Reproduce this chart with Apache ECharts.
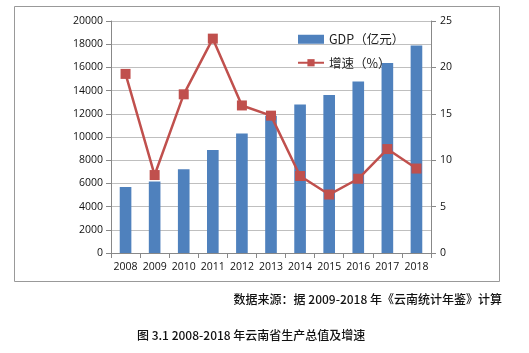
<!DOCTYPE html>
<html lang="zh">
<head>
<meta charset="UTF-8">
<title>云南省生产总值及增速</title>
<style>
  html, body { margin: 0; padding: 0; background: #fff; }
  #chart { width: 529px; height: 353px; }
</style>
</head>
<body>
<div id="chart"></div>
<script src="https://cdn.jsdelivr.net/npm/echarts@6/dist/echarts.min.js"></script>
<script>
var years = ['2008', '2009', '2010', '2011', '2012', '2013', '2014', '2015', '2016', '2017', '2018'];
var gdp = [5700, 6170, 7220, 8890, 10310, 11830, 12810, 13620, 14790, 16380, 17880];
var growth = [19.3, 8.4, 17.1, 23.1, 15.9, 14.8, 8.3, 6.3, 8.0, 11.2, 9.1];
var sourceNote = '数据来源：据 2009-2018 年《云南统计年鉴》计算';
var caption = '图 3.1 2008-2018 年云南省生产总值及增速';

var chart = echarts.init(document.getElementById('chart'));
var cjk = '"Noto Sans CJK SC", sans-serif';
var numFont = '"Open Sans", "Noto Sans", sans-serif';

var option = {
  animation: false,
  textStyle: { fontFamily: cjk },
  grid: { left: 111, right: 98, top: 21, bottom: 100 },
  legend: {
    orient: 'vertical',
    left: 292,
    top: 28,
    itemWidth: 26,
    itemHeight: 9,
    itemGap: 11,
    textStyle: { fontSize: 12.5, color: '#222', fontFamily: cjk },
    data: [
      { name: 'GDP（亿元）', icon: 'rect' },
      { name: '增速（%）' }
    ]
  },
  xAxis: {
    type: 'category',
    data: years,
    axisLine: { lineStyle: { color: '#888' } },
    axisTick: { show: true, lineStyle: { color: '#888' } },
    axisLabel: { interval: 0, color: '#111', fontSize: 10.5, margin: 9, fontFamily: numFont }
  },
  yAxis: [
    {
      type: 'value', min: 0, max: 20000, interval: 2000,
      axisLine: { show: true, lineStyle: { color: '#888' } },
      axisTick: { show: true, lineStyle: { color: '#888' } },
      splitLine: { lineStyle: { color: '#bfbfbf' } },
      axisLabel: {
        color: '#111', fontSize: 10.5, margin: 8, fontFamily: numFont,
        formatter: function (v) { return String(v); }
      }
    },
    {
      type: 'value', min: 0, max: 25, interval: 5,
      axisLine: { show: true, lineStyle: { color: '#888' } },
      axisTick: { show: true, lineStyle: { color: '#888' } },
      splitLine: { show: false },
      axisLabel: { color: '#111', fontSize: 10.5, margin: 9, fontFamily: numFont }
    }
  ],
  series: [
    {
      name: 'GDP（亿元）',
      type: 'bar',
      data: gdp,
      barWidth: '40%',
      itemStyle: { color: '#4f81bd' }
    },
    {
      name: '增速（%）',
      type: 'line',
      yAxisIndex: 1,
      data: growth,
      symbol: 'rect',
      symbolSize: 10,
      lineStyle: { color: '#c0504d', width: 2.5 },
      itemStyle: { color: '#c0504d' }
    }
  ],
  graphic: [
    {
      type: 'rect',
      shape: { x: 14.5, y: 6.5, width: 485, height: 275 },
      style: { fill: 'none', stroke: '#999', lineWidth: 1 },
      silent: true
    },
    {
      type: 'text',
      right: 27,
      top: 293,
      style: { text: sourceNote, fill: '#111', font: '500 12px ' + cjk }
    },
    {
      type: 'text',
      left: 137,
      top: 329,
      style: { text: caption, fill: '#111', font: '500 12px ' + cjk }
    }
  ]
};

chart.setOption(option);
</script>
</body>
</html>
